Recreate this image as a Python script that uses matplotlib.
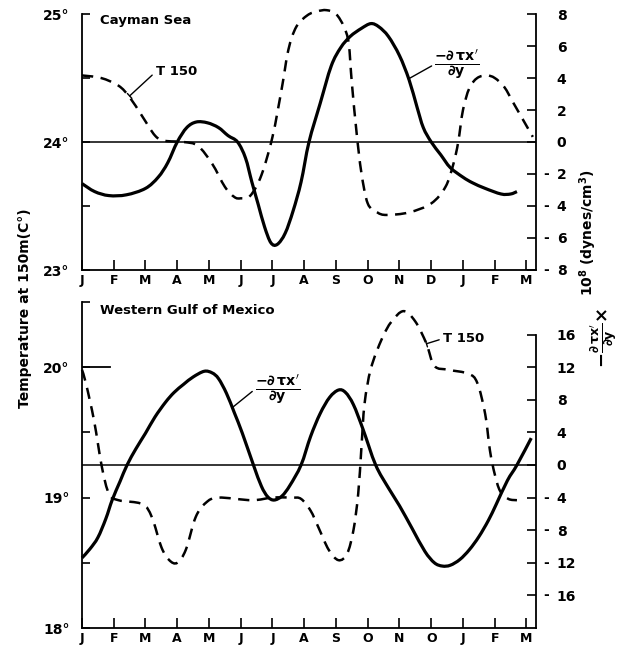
import matplotlib
matplotlib.use("Agg")
import matplotlib.pyplot as plt
import matplotlib.transforms as mtransforms
from matplotlib.path import Path
from matplotlib.patches import PathPatch

plt.rcParams['font.family'] = ['DejaVu Sans']
plt.rcParams['font.weight'] = 'bold'
plt.rcParams['mathtext.fontset'] = 'dejavusans'

# ---------------- data ----------------
months_top = ['J', 'F', 'M', 'A', 'M', 'J', 'J', 'A', 'S', 'O', 'N', 'D', 'J', 'F', 'M']
months_bot = ['J', 'F', 'M', 'A', 'M', 'J', 'J', 'A', 'S', 'O', 'N', 'O', 'J', 'F', 'M']

# Cayman Sea: wind stress curl (right axis, 1e8 dynes/cm^3)
cay_tau_m = [0, 0.4, 0.85, 1.4, 2.0, 2.4, 2.7, 3.0, 3.3, 3.6, 3.95, 4.3, 4.6, 4.9, 5.15,
             5.35, 5.55, 5.75, 5.95, 6.15, 6.4, 6.65, 6.9, 7.15, 7.5, 7.85, 8.15, 8.45,
             8.8, 9.1, 9.35, 9.65, 10.0, 10.3, 10.55, 10.75, 11.0, 11.3, 11.6, 12.0,
             12.3, 12.7, 13.2, 13.5, 13.7]
cay_tau = [-2.6, -3.1, -3.35, -3.3, -2.9, -2.2, -1.3, 0.0, 0.9, 1.25, 1.2, 0.9, 0.4, 0.0,
           -1.0, -2.5, -3.9, -5.3, -6.3, -6.4, -5.7, -4.3, -2.5, 0.0, 2.4, 4.75, 5.9,
           6.6, 7.1, 7.4, 7.2, 6.6, 5.4, 3.9, 2.2, 0.9, 0.0, -0.8, -1.6, -2.2, -2.55,
           -2.9, -3.25, -3.25, -3.1]

# Cayman Sea: temperature at 150 m (left axis, deg C)
cay_t_m = [0, 0.6, 1.15, 1.5, 1.9, 2.3, 2.6, 3.2, 3.65, 4.1, 4.5, 4.8, 5.0, 5.3, 5.65,
           6.0, 6.3, 6.5, 6.75, 7.1, 7.4, 7.7, 8.0, 8.25, 8.4, 8.5, 8.65, 8.8, 9.0,
           9.3, 9.6, 10.3, 11.0, 11.45, 11.7, 11.85, 12.0, 12.2, 12.45, 12.75, 13.0,
           13.3, 13.6, 13.9, 14.2]
cay_t = [24.52, 24.5, 24.44, 24.35, 24.2, 24.05, 24.01, 24.0, 23.97, 23.83, 23.65,
         23.57, 23.56, 23.58, 23.74, 24.04, 24.43, 24.72, 24.9, 24.99, 25.02, 25.03,
         25.0, 24.9, 24.77, 24.46, 24.07, 23.76, 23.52, 23.45, 23.43, 23.45, 23.52,
         23.65, 23.83, 24.0, 24.25, 24.42, 24.5, 24.52, 24.5, 24.43, 24.3, 24.17, 24.04]

# Western Gulf of Mexico: wind stress curl
gom_tau_m = [0, 0.25, 0.5, 0.75, 0.95, 1.2, 1.42, 1.7, 2.0, 2.3, 2.63, 2.9, 3.2, 3.5,
             3.85, 4.1, 4.3, 4.55, 4.8, 5.05, 5.4, 5.65, 5.85, 6.05, 6.3, 6.55, 6.9,
             7.2, 7.5, 7.8, 8.08, 8.3, 8.55, 8.85, 9.25, 9.65, 10.0, 10.4, 10.8, 11.1,
             11.35, 11.6, 11.9, 12.2, 12.5, 12.8, 13.05, 13.4, 13.7, 14.15]
gom_tau = [-11.4, -10.3, -8.9, -6.6, -4.3, -2.0, 0.0, 2.0, 3.9, 5.9, 7.7, 8.9, 9.9, 10.8,
           11.5, 11.3, 10.6, 8.8, 6.4, 3.9, 0.0, -2.6, -3.9, -4.3, -3.8, -2.5, 0.0,
           3.5, 6.3, 8.3, 9.2, 8.9, 7.4, 4.4, 0.0, -2.8, -5.0, -7.8, -10.6, -12.0,
           -12.4, -12.3, -11.6, -10.4, -8.8, -6.8, -4.8, -1.9, 0.0, 3.3]

# Western Gulf of Mexico: temperature at 150 m
gom_t_m = [0, 0.13, 0.38, 0.63, 0.85, 1.15, 1.9, 2.2, 2.5, 2.75, 3.0, 3.27, 3.58, 3.9,
           4.3, 5.35, 6.0, 6.6, 6.9, 7.2, 7.45, 7.77, 8.08, 8.35, 8.55, 8.7, 8.8, 8.9,
           9.1, 9.45, 9.75, 10.13, 10.5, 10.85, 11.1, 11.55, 12.17, 12.45, 12.7, 12.85,
           13.0, 13.17, 13.43, 13.7]
gom_t = [19.98, 19.87, 19.59, 19.23, 19.03, 18.98, 18.95, 18.85, 18.62, 18.52, 18.5,
         18.6, 18.85, 18.96, 19.0, 18.98, 19.0, 19.0, 18.99, 18.9, 18.77, 18.6, 18.52,
         18.57, 18.75, 19.03, 19.38, 19.72, 19.99, 20.22, 20.35, 20.43, 20.35, 20.18,
         20.01, 19.98, 19.95, 19.88, 19.64, 19.36, 19.18, 19.05, 18.99, 18.98]

# ---------------- layout ----------------
W, H = 626, 646
fig = plt.figure(figsize=(W / 100, H / 100), dpi=100)


def box(l, t, r, b):
    return [l / W, 1 - b / H, (r - l) / W, (b - t) / H]


DASH = (0, (4.5, 3.0))
FS_TICK = 10
FS_MON = 9


def smooth_curve(ax, xs, ys, **kw):
    """Draw a smooth (Catmull-Rom / Bezier) curve through the read points."""
    n = len(xs)
    pts = list(zip(xs, ys))
    verts = [pts[0]]
    codes = [Path.MOVETO]
    for i in range(n - 1):
        p0 = pts[i - 1] if i > 0 else pts[i]
        p1 = pts[i]
        p2 = pts[i + 1]
        p3 = pts[i + 2] if i + 2 < n else pts[i + 1]
        c1 = (p1[0] + (p2[0] - p0[0]) / 6.0, p1[1] + (p2[1] - p0[1]) / 6.0)
        c2 = (p2[0] - (p3[0] - p1[0]) / 6.0, p2[1] - (p3[1] - p1[1]) / 6.0)
        verts += [c1, c2, p2]
        codes += [Path.CURVE4] * 3
    patch = PathPatch(Path(verts, codes), fill=False, transform=ax.transData, **kw)
    patch.set_clip_on(False)
    ax.add_patch(patch)
    return patch


def setup_panel(rect, tlim, tmajor, tminor, taulim, tauticks, tau_spine, months, title, title_y):
    ax = fig.add_axes(rect)
    axr = ax.twinx()
    ax.set_xlim(0, 14.3)
    ax.set_ylim(*tlim)
    axr.set_ylim(*taulim)
    for a in (ax, axr):
        a.spines['top'].set_visible(False)
        a.patch.set_visible(False)
    ax.spines['right'].set_visible(False)
    axr.spines['left'].set_visible(False)
    axr.spines['bottom'].set_visible(False)
    for s in ('left', 'bottom'):
        ax.spines[s].set_linewidth(1.3)
    axr.spines['right'].set_linewidth(1.3)
    axr.spines['right'].set_bounds(*tau_spine)

    ax.set_xticks(range(15))
    ax.set_xticklabels(months, fontsize=FS_MON, fontweight='bold')
    ax.tick_params(axis='x', direction='in', length=7, width=1.2, pad=3)

    ax.set_yticks(tmajor)
    ax.set_yticklabels([f"{v:g}°" for v in tmajor], fontsize=FS_TICK, fontweight='bold')
    ax.set_yticks(tminor, minor=True)
    ax.tick_params(axis='y', which='both', direction='in', length=6, width=1.2, pad=9)

    axr.set_yticks(tauticks)
    axr.set_yticklabels([f"{abs(v):g}" for v in tauticks], fontsize=FS_TICK, fontweight='bold')
    axr.tick_params(axis='y', direction='in', length=6.5, width=1.2, pad=15)
    trans = mtransforms.blended_transform_factory(axr.transAxes, axr.transData)
    for v in tauticks:
        if v < 0:
            axr.text(1.0295, v, "-", transform=trans, ha='right', va='center',
                     fontsize=FS_TICK, fontweight='bold')

    axr.axhline(0, color='black', lw=1.1)
    ax.text(0.04, title_y, title, transform=ax.transAxes, ha='left', va='center',
            fontsize=9.5, fontweight='bold')
    return ax, axr


FRACTION = r"$\frac{\mathbf{-\partial\,\tau x'}}{\mathbf{\partial y}}$"
LEAD = dict(arrowstyle='-', color='black', lw=1.0, shrinkA=0, shrinkB=0, relpos=(0.0, 0.5))
LEAD_T = dict(arrowstyle='-[, widthB=0.25, lengthB=0', color='black', lw=1.0,
              shrinkA=1, shrinkB=0, relpos=(0.0, 0.5))

# ---- top panel: Cayman Sea ----
ax1, ax1r = setup_panel(box(82, 14, 536, 270), (23, 25), [23, 24, 25], [23.5, 24.5],
                        (-8, 8), [8, 6, 4, 2, 0, -2, -4, -6, -8], (-8, 8),
                        months_top, "Cayman Sea", 0.975)
smooth_curve(ax1, cay_t_m, cay_t, edgecolor='black', lw=1.8, linestyle=DASH)
smooth_curve(ax1r, cay_tau_m, cay_tau, edgecolor='black', lw=2.3)

ax1.annotate("T 150", xy=(1.5, 24.36), xytext=(2.33, 24.55), textcoords='data',
             ha='left', va='center', fontsize=9.5, fontweight='bold', arrowprops=LEAD_T)
ax1r.annotate(FRACTION, xy=(10.28, 3.94), xytext=(11.1, 4.85),
              textcoords='data', ha='left', va='center', fontsize=14.5, arrowprops=LEAD)

# ---- bottom panel: Western Gulf of Mexico ----
ax2, ax2r = setup_panel(box(82, 302, 536, 628), (18, 20.5), [18, 19, 20], [18.5, 19.5, 20.5],
                        (-20, 20), [16, 12, 8, 4, 0, -4, -8, -12, -16], (-20, 16),
                        months_bot, "Western Gulf of Mexico", 0.975)
ax2.axhline(20, xmin=0, xmax=0.062, color='black', lw=1.3)
smooth_curve(ax2, gom_t_m, gom_t, edgecolor='black', lw=1.8, linestyle=DASH)
smooth_curve(ax2r, gom_tau_m, gom_tau, edgecolor='black', lw=2.3)

ax2.annotate("T 150", xy=(10.85, 20.18), xytext=(11.38, 20.22), textcoords='data',
             ha='left', va='center', fontsize=9.5, fontweight='bold', arrowprops=LEAD_T)
ax2r.annotate(FRACTION, xy=(4.72, 7.0), xytext=(5.45, 9.3),
              textcoords='data', ha='left', va='center', fontsize=14.5, arrowprops=LEAD)

# ---- axis titles ----
fig.text(25 / W, 1 - 308 / H, "Temperature at 150m(C°)", rotation=90, ha='center',
         va='center', fontsize=10, fontweight='bold')
fig.text(588 / W, 1 - 233 / H, r"10$^{\mathbf{8}}$ (dynes/cm$^{\mathbf{3}}$)", rotation=90,
         ha='center', va='center', fontsize=10, fontweight='bold')
fig.text(604 / W, 1 - 338 / H,
         r"$\mathbf{-}\frac{\mathbf{\partial\,\tau x'}}{\mathbf{\partial y}}\mathbf{\times}$",
         rotation=90, ha='center', va='center', fontsize=13)

fig.savefig("out.png", dpi=100)
